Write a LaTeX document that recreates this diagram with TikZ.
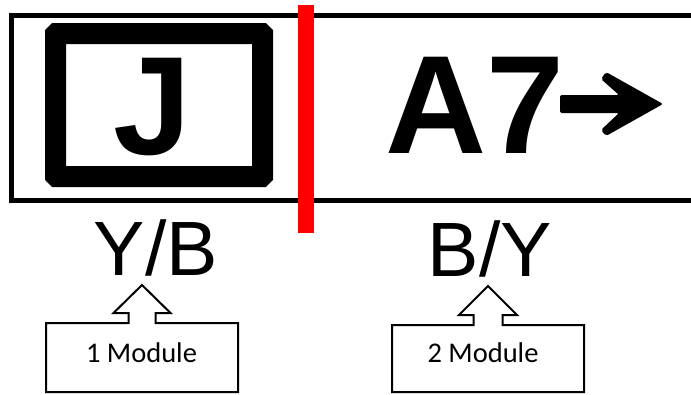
\documentclass[tikz,border=0pt]{standalone}
\usepackage{fontspec}
\setmainfont{Liberation Sans}
\newfontfamily\calibri{Carlito}
\usetikzlibrary{calc}

\begin{document}
\begin{tikzpicture}[
  x=1pt, y=-1pt,
  signtext/.style={inner sep=0pt, font=\bfseries\fontsize{140}{140}\selectfont},
  colourtext/.style={inner sep=0pt, font=\fontsize{77}{77}\selectfont},
  modtext/.style={inner sep=0pt, font=\calibri\fontsize{28.5}{30}\selectfont},
  callout/.style={draw, line width=2pt, fill=white, line join=miter}
]
\useasboundingbox (0,0) rectangle (691,394);

% the sign
\draw[line width=5pt] (11.5,15) rectangle (693,200);
\draw[line width=21pt, rounded corners=1pt] (55.5,33.5) rectangle (262.5,176.5);
\node[signtext] (j) at (152,107) {J};
\node[signtext, anchor=west] (a7) at (385,105) {A7};
\fill[rounded corners=2pt] (560,95) -- (619,95) -- (601,79) -- (606,72)
  -- (663,104) -- (606,136) -- (601,130) -- (619,113) -- (560,113) -- cycle;

% module split
\fill[red] (298,5) rectangle (314,233);

% colours
\node[colourtext] (yb) at (156,247.5) {Y/B};
\node[colourtext] (by) at (490,248.5) {B/Y};

% callouts
\coordinate (tip1) at (142,285);
\coordinate (tip2) at (488,286);
\draw[callout] (46,392) -- (46,323) -- (128.5,323) -- (128.5,313) -- (113.5,313)
  -- (tip1) -- (170.5,313) -- (155.5,313) -- (155.5,323) -- (238,323) -- (238,392) -- cycle;
\draw[callout] (392,392) -- (392,325) -- (473.5,325) -- (473.5,315) -- (459,315)
  -- (tip2) -- (517,315) -- (502.5,315) -- (502.5,325) -- (584,325) -- (584,392) -- cycle;
\node[modtext] (m1) at (141.5,352.5) {1 Module};
\node[modtext] (m2) at (483,353) {2 Module};

\end{tikzpicture}
\end{document}
